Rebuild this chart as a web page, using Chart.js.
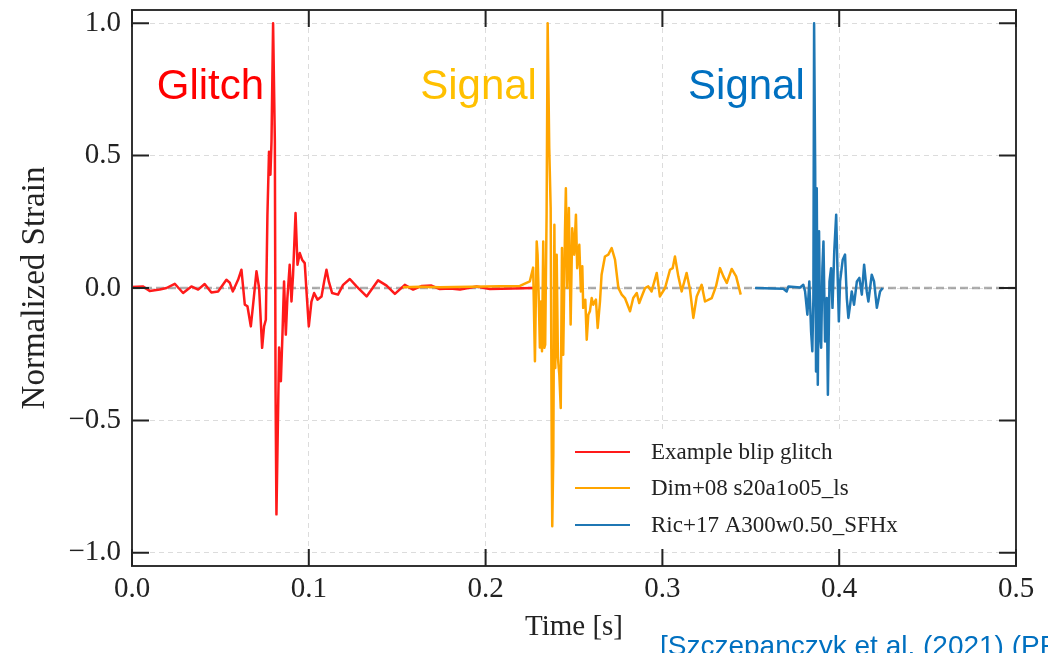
<!DOCTYPE html>
<html>
<head>
<meta charset="utf-8">
<script src="https://cdn.jsdelivr.net/npm/chart.js@4.4.1/dist/chart.umd.min.js"></script>
<style>
  html, body { margin: 0; padding: 0; background: #fff; }
  #wrap { width: 1048px; height: 653px; position: relative; }
</style>
</head>
<body>
<div id="wrap"><canvas id="strain-chart"></canvas></div>
<script>
// time [s] and normalized strain for each waveform
const blipT = [0.0000, 0.0061, 0.0100, 0.0157, 0.0195, 0.0242, 0.0289, 0.0336, 0.0374, 0.0411,
  0.0449, 0.0487, 0.0534, 0.0553, 0.0570, 0.0600, 0.0619, 0.0638, 0.0653, 0.0672,
  0.0685, 0.0704, 0.0719, 0.0736, 0.0747, 0.0757, 0.0766, 0.0775, 0.0783, 0.0789,
  0.0798, 0.0808, 0.0812, 0.0817, 0.0823, 0.0832, 0.0842, 0.0851, 0.0860, 0.0870,
  0.0879, 0.0892, 0.0902, 0.0911, 0.0925, 0.0936, 0.0949, 0.0962, 0.0977, 0.0987,
  0.1000, 0.1015, 0.1030, 0.1049, 0.1072, 0.1087, 0.1100, 0.1113, 0.1132, 0.1165,
  0.1194, 0.1232, 0.1270, 0.1327, 0.1392, 0.1440, 0.1487, 0.1543, 0.1590, 0.1640,
  0.1694, 0.1741, 0.1800, 0.1855, 0.1949, 0.2024, 0.2150, 0.2269];
const blipH = [0.004, 0.006, -0.011, -0.006, 0.000, 0.016, -0.019, 0.006, -0.006, 0.015,
  -0.017, -0.013, 0.031, 0.020, -0.013, 0.031, 0.069, -0.063, -0.069, -0.145,
  -0.063, 0.063, 0.000, -0.226, -0.145, -0.120, 0.277, 0.515, 0.428, 0.553,
  1.000, 0.553, -0.390, -0.855, -0.603, -0.225, -0.352, -0.176, 0.025, -0.176,
  -0.037, 0.088, -0.051, 0.050, 0.283, 0.088, 0.132, 0.107, 0.094, -0.013,
  -0.145, -0.051, -0.019, -0.044, -0.032, 0.025, 0.069, 0.025, -0.019, -0.025,
  0.012, 0.034, 0.006, -0.032, 0.029, 0.009, -0.022, 0.012, -0.006, 0.008,
  0.009, -0.004, -0.002, -0.006, 0.006, -0.004, -0.002, 0.000];

const dimT = [0.1532, 0.1628, 0.1741, 0.1911, 0.2081, 0.2194, 0.2250, 0.2269, 0.2279, 0.2289,
  0.2294, 0.2302, 0.2307, 0.2313, 0.2319, 0.2326, 0.2332, 0.2337, 0.2345, 0.2351,
  0.2360, 0.2368, 0.2374, 0.2377, 0.2383, 0.2389, 0.2394, 0.2402, 0.2409, 0.2417,
  0.2425, 0.2432, 0.2439, 0.2449, 0.2454, 0.2462, 0.2471, 0.2481, 0.2490, 0.2501,
  0.2511, 0.2518, 0.2530, 0.2539, 0.2547, 0.2552, 0.2564, 0.2572, 0.2581, 0.2590,
  0.2600, 0.2609, 0.2624, 0.2634, 0.2647, 0.2656, 0.2675, 0.2694, 0.2713, 0.2732,
  0.2751, 0.2770, 0.2788, 0.2817, 0.2835, 0.2855, 0.2869, 0.2883, 0.2902, 0.2920,
  0.2939, 0.2968, 0.2986, 0.3015, 0.3043, 0.3058, 0.3071, 0.3090, 0.3109, 0.3137,
  0.3156, 0.3175, 0.3194, 0.3222, 0.3241, 0.3279, 0.3303, 0.3326, 0.3345, 0.3364,
  0.3392, 0.3417, 0.3443];
const dimH = [0.003, 0.005, 0.003, 0.005, 0.007, 0.008, 0.025, 0.077, -0.277, 0.176,
  0.126, -0.074, -0.225, -0.051, -0.239, 0.176, -0.226, -0.214, 0.277, 1.000,
  0.528, 0.302, -0.604, -0.900, -0.629, 0.239, -0.302, 0.126, -0.264, -0.327,
  -0.453, 0.151, -0.252, 0.214, 0.377, 0.000, 0.302, -0.138, 0.226, 0.126,
  0.277, 0.075, 0.163, -0.013, 0.082, -0.075, -0.044, -0.195, -0.101, -0.088,
  -0.038, -0.063, -0.044, -0.151, -0.051, 0.050, 0.119, 0.126, 0.151, 0.107,
  0.000, -0.025, -0.038, -0.088, -0.038, -0.019, -0.057, -0.032, 0.000, 0.006,
  -0.013, 0.057, -0.032, 0.000, 0.069, 0.075, 0.119, 0.044, -0.013, 0.057,
  -0.006, -0.113, -0.032, 0.012, -0.051, -0.038, 0.006, 0.075, 0.044, 0.019,
  0.072, 0.044, -0.025];

const ricT = [0.3524, 0.3684, 0.3703, 0.3713, 0.3779, 0.3797, 0.3807, 0.3820, 0.3831, 0.3841,
  0.3848, 0.3854, 0.3858, 0.3864, 0.3869, 0.3873, 0.3879, 0.3886, 0.3892, 0.3898,
  0.3905, 0.3911, 0.3920, 0.3930, 0.3936, 0.3945, 0.3954, 0.3962, 0.3972, 0.3983,
  0.3990, 0.3998, 0.4005, 0.4020, 0.4033, 0.4043, 0.4052, 0.4062, 0.4071, 0.4084,
  0.4100, 0.4114, 0.4128, 0.4141, 0.4156, 0.4165, 0.4184, 0.4197, 0.4213, 0.4231,
  0.4246];
const ricH = [0.000, -0.003, -0.013, 0.006, 0.002, 0.012, -0.013, -0.101, 0.025, -0.164,
  -0.239, -0.038, 1.000, 0.465, -0.315, 0.377, -0.365, 0.214, -0.176, -0.226,
  0.075, 0.176, -0.202, -0.038, -0.403, 0.025, 0.075, -0.075, 0.138, 0.277,
  0.075, -0.126, 0.025, 0.107, 0.126, -0.038, -0.113, -0.063, -0.013, -0.063,
  0.025, 0.038, -0.025, 0.088, -0.013, -0.051, 0.050, 0.025, -0.075, -0.013,
  0.000];

const seriesLabels = ['Example blip glitch', 'Dim+08 s20a1o05_ls', 'Ric+17 A300w0.50_SFHx'];
const seriesColors = ['#ff1a1a', '#ffa500', '#1f77b4'];
const xTicks = [0, 0.1, 0.2, 0.3, 0.4, 0.5];
const yTicks = [-1, -0.5, 0, 0.5, 1];

const notes = [
  { text: 'Glitch', t: 0.014, h: 0.714, color: '#ff0000' },
  { text: 'Signal', t: 0.163, h: 0.714, color: '#ffc000' },
  { text: 'Signal', t: 0.3145, h: 0.714, color: '#0070c0' }
];

const SERIF = '"Liberation Serif", "DejaVu Serif", serif';
const SANS = '"Liberation Sans", Arial, sans-serif';

function pairs(ts, hs) {
  return ts.map((t, i) => ({ x: t, y: hs[i] }));
}

function fmt(v) {
  const s = Math.abs(v).toFixed(1);
  return v < 0 ? '\u2212' + s : s;
}

// frame with inward ticks, zero line, in-plot legend and text labels
const decorations = {
  id: 'decorations',
  beforeDatasetsDraw(chart) {
    const { ctx, chartArea: a, scales: { y } } = chart;
    const y0 = y.getPixelForValue(0);
    ctx.save();
    ctx.strokeStyle = 'rgba(140,140,140,0.7)';
    ctx.lineWidth = 2.5;
    ctx.setLineDash([8, 4]);
    ctx.beginPath();
    ctx.moveTo(a.left, y0);
    ctx.lineTo(a.right, y0);
    ctx.stroke();
    ctx.restore();
  },
  afterDatasetsDraw(chart) {
    const { ctx, chartArea: a, scales: { x, y } } = chart;
    ctx.save();

    // legend
    const lx = a.right - 441;
    const rows = [a.bottom - 114, a.bottom - 78, a.bottom - 41];
    ctx.fillStyle = '#fff';
    ctx.fillRect(lx - 10, rows[0] - 22, 400, rows[2] - rows[0] + 44);
    chart.data.datasets.forEach((ds, i) => {
      ctx.strokeStyle = ds.borderColor;
      ctx.lineWidth = 2;
      ctx.beginPath();
      ctx.moveTo(lx, rows[i]);
      ctx.lineTo(lx + 55, rows[i]);
      ctx.stroke();
      ctx.fillStyle = '#222';
      ctx.font = '23px ' + SERIF;
      ctx.textBaseline = 'middle';
      ctx.textAlign = 'left';
      ctx.fillText(ds.label, lx + 76, rows[i] + 1);
    });

    // text labels over the waveforms
    ctx.font = '42px ' + SANS;
    ctx.textBaseline = 'alphabetic';
    notes.forEach(n => {
      ctx.fillStyle = n.color;
      ctx.fillText(n.text, x.getPixelForValue(n.t), y.getPixelForValue(n.h));
    });

    // frame
    ctx.strokeStyle = '#333';
    ctx.lineWidth = 2;
    ctx.strokeRect(a.left, a.top, a.right - a.left, a.bottom - a.top);

    // inward ticks on all four sides
    const len = 17;
    ctx.strokeStyle = '#222';
    ctx.beginPath();
    xTicks.forEach(v => {
      const px = x.getPixelForValue(v);
      ctx.moveTo(px, a.bottom); ctx.lineTo(px, a.bottom - len);
      ctx.moveTo(px, a.top); ctx.lineTo(px, a.top + len);
    });
    yTicks.forEach(v => {
      const py = y.getPixelForValue(v);
      ctx.moveTo(a.left, py); ctx.lineTo(a.left + len, py);
      ctx.moveTo(a.right, py); ctx.lineTo(a.right - len, py);
    });
    ctx.stroke();

    // citation
    ctx.fillStyle = '#0070c0';
    ctx.font = '28px ' + SANS;
    ctx.fillText('[Szczepanczyk et al. (2021) (PRD)]', 660, 655);
    ctx.restore();
  }
};

new Chart(document.getElementById('strain-chart'), {
  type: 'line',
  data: {
    datasets: [
      { label: seriesLabels[0], data: pairs(blipT, blipH), borderColor: seriesColors[0], order: 3 },
      { label: seriesLabels[1], data: pairs(dimT, dimH), borderColor: seriesColors[1], order: 2 },
      { label: seriesLabels[2], data: pairs(ricT, ricH), borderColor: seriesColors[2], order: 1 }
    ]
  },
  options: {
    responsive: true,
    maintainAspectRatio: false,
    devicePixelRatio: 1,
    animation: false,
    layout: { padding: { left: 0, top: 10, right: 32, bottom: 0 } },
    elements: {
      line: { borderWidth: 2.5, tension: 0, fill: false, borderJoinStyle: 'round' },
      point: { radius: 0 }
    },
    plugins: {
      legend: { display: false },
      tooltip: { enabled: false }
    },
    scales: {
      x: {
        type: 'linear',
        min: 0,
        max: 0.5,
        afterFit: s => { s.height = 87; s.paddingLeft = 0; s.paddingRight = 0; },
        afterBuildTicks: s => { s.ticks = xTicks.map(v => ({ value: v })); },
        ticks: {
          includeBounds: false,
          padding: 6,
          color: '#222',
          font: { family: SERIF, size: 29 },
          maxRotation: 0,
          callback: v => fmt(v)
        },
        grid: { color: '#dcdcdc', lineWidth: 1, drawTicks: false },
        border: { display: false, dash: [5, 4] },
        title: {
          display: true,
          text: 'Time [s]',
          color: '#222',
          font: { family: SERIF, size: 29 },
          padding: { top: 0, bottom: 8 }
        }
      },
      y: {
        min: -1.05,
        max: 1.05,
        afterFit: s => { s.width = 132; s.paddingTop = 0; s.paddingBottom = 0; },
        afterBuildTicks: s => { s.ticks = yTicks.map(v => ({ value: v })); },
        ticks: {
          includeBounds: false,
          padding: 11,
          color: '#222',
          font: { family: SERIF, size: 29 },
          callback: v => fmt(v)
        },
        grid: { color: '#dcdcdc', lineWidth: 1, drawTicks: false },
        border: { display: false, dash: [5, 4] },
        title: {
          display: true,
          text: 'Normalized Strain',
          color: '#222',
          font: { family: SERIF, size: 33 },
          padding: { top: 16, bottom: 0 }
        }
      }
    }
  },
  plugins: [decorations]
});
</script>
</body>
</html>
